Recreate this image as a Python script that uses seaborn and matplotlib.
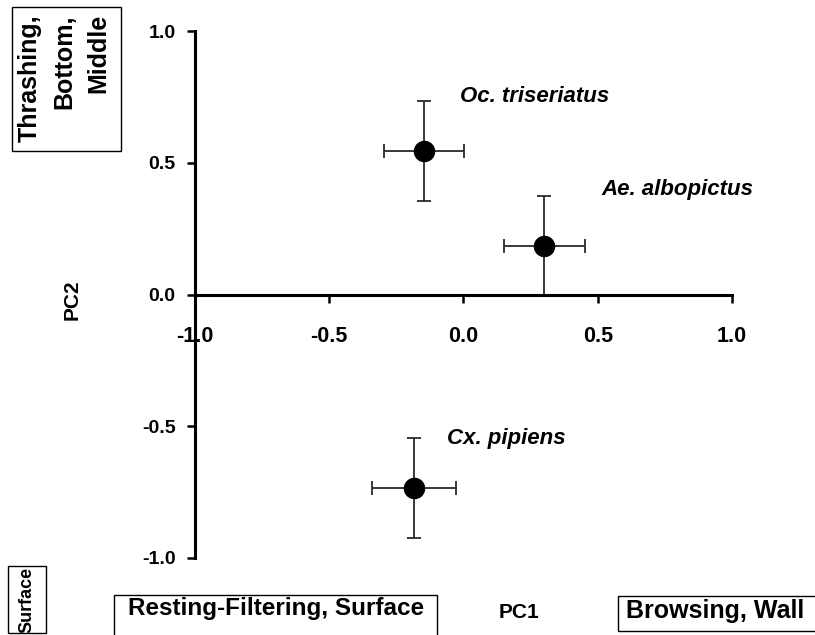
import matplotlib
matplotlib.use('Agg')
import matplotlib.pyplot as plt
import seaborn as sns
import pandas as pd
from matplotlib.patches import Rectangle

# ---- data ----
species = ["Oc. triseriatus", "Ae. albopictus", "Cx. pipiens"]
pc1 = [-0.147, 0.301, -0.184]
pc2 = [0.546, 0.185, -0.733]
pc1_err = [0.150, 0.152, 0.155]
pc2_err = [0.190, 0.188, 0.190]
ticks = [-1.0, -0.5, 0.0, 0.5, 1.0]
tick_labels = ["-1.0", "-0.5", "0.0", "0.5", "1.0"]
# label anchor offsets (left edge of each species label) in data units
label_x = [-0.013, 0.512, -0.061]
label_y = [0.753, 0.397, -0.545]

sns.set_theme(style='white')
plt.rcParams['font.family'] = ['Liberation Sans', 'DejaVu Sans']
plt.rcParams['font.weight'] = 'bold'
plt.rcParams['text.color'] = 'black'
plt.rcParams['xtick.color'] = 'black'
plt.rcParams['ytick.color'] = 'black'
plt.rcParams['xtick.labelcolor'] = 'black'
plt.rcParams['ytick.labelcolor'] = 'black'

df = pd.DataFrame({'species': species, 'PC1': pc1, 'PC2': pc2})

W, H = 815, 635
fig = plt.figure(figsize=(W / 100, H / 100), dpi=100)
ax = fig.add_axes([195 / W, 1 - 558 / H, (732 - 195) / W, (558 - 31) / H])

ax.errorbar(pc1, pc2, xerr=pc1_err, yerr=pc2_err, fmt='none', ecolor='#2a2a2a',
            elinewidth=1.3, capsize=5, capthick=1.3, zorder=2)
sns.scatterplot(data=df, x='PC1', y='PC2', color='black', s=240, edgecolor='black',
                linewidth=0, ax=ax, zorder=3, legend=False)

for name, lx, ly in zip(species, label_x, label_y):
    ax.text(lx, ly, name, ha='left', va='center', fontstyle='italic',
            fontweight='bold', fontsize=16, color='black')

ax.set_xlim(-1, 1)
ax.set_ylim(-1, 1)
ax.set_xticks(ticks)
ax.set_xticklabels(tick_labels)
ax.set_yticks(ticks)
ax.set_yticklabels(tick_labels)
ax.set_xlabel('')
ax.set_ylabel('')
for s in ['top', 'right']:
    ax.spines[s].set_visible(False)
ax.spines['bottom'].set_position(('data', 0))
for s in ['left', 'bottom']:
    ax.spines[s].set_color('black')
    ax.spines[s].set_linewidth(2.2)
ax.tick_params(axis='both', which='major', bottom=True, left=True, direction='out',
               length=6, width=1.8, color='black', labelcolor='black')
ax.tick_params(axis='x', pad=17, labelsize=15.5)
ax.tick_params(axis='y', pad=8, labelsize=14)
for t in ax.get_xticklabels() + ax.get_yticklabels():
    t.set_fontweight('bold')
ax.set_facecolor('white')


def box(x0, y0, x1, y1):
    fig.patches.append(Rectangle((x0 / W, 1 - y1 / H), (x1 - x0) / W, (y1 - y0) / H,
                                 transform=fig.transFigure, fill=False,
                                 edgecolor='black', linewidth=1.0))


box(12, 7, 121, 151)
fig.text(64 / W, 1 - 78 / H, "Thrashing,\nBottom,\nMiddle", rotation=90,
         ha='center', va='center', multialignment='right', fontsize=18,
         fontweight='bold', linespacing=1.55, color='black')
box(8, 566, 46, 633)
fig.text(27 / W, 1 - 600 / H, "Surface", rotation=90, ha='center', va='center',
         fontsize=13, fontweight='bold', color='black')
box(114, 595, 437, 640)
fig.text(276 / W, 1 - 609 / H, "Resting-Filtering, Surface", ha='center', va='center',
         fontsize=17.5, fontweight='bold', color='black')
box(618, 596, 820, 631)
fig.text(626 / W, 1 - 611 / H, "Browsing, Wall", ha='left', va='center',
         fontsize=18, fontweight='bold', color='black')
fig.text(519 / W, 1 - 613 / H, "PC1", ha='center', va='center', fontsize=15,
         fontweight='bold', color='black')
fig.text(72 / W, 1 - 300 / H, "PC2", rotation=90, ha='center', va='center',
         fontsize=15, fontweight='bold', color='black')

fig.savefig('out.png', dpi=100, facecolor='white')
